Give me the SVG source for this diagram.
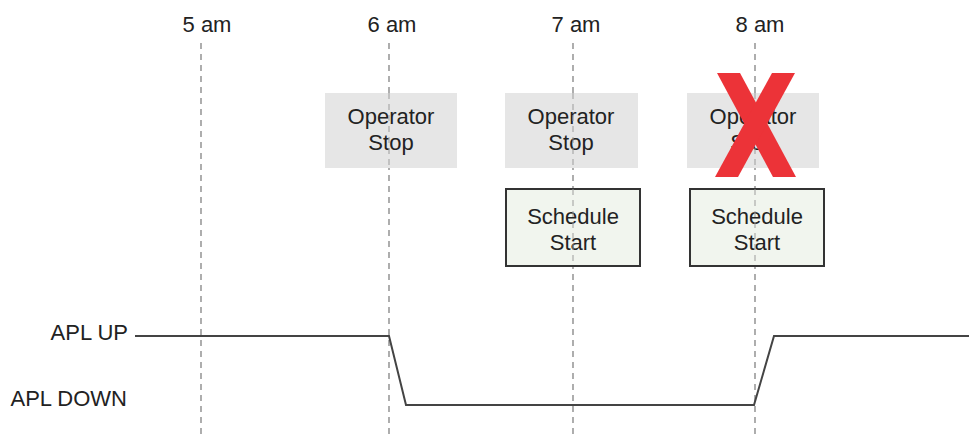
<svg xmlns="http://www.w3.org/2000/svg" width="969" height="436" viewBox="0 0 969 436">
<style>
text{font-family:"Liberation Sans",Arial,sans-serif;font-size:22px;fill:#222}
.c{text-anchor:middle}
.e{text-anchor:end}
.grid{stroke:#9a9a9a;stroke-width:1.6;stroke-dasharray:6 5;fill:none}
.stop{fill:#e6e6e6}
.sched{fill:#f1f5ee;stroke:#333;stroke-width:2}
.sig{stroke:#444;stroke-width:2;fill:none}
.x{fill:#ec3338}
</style>
<g id="axis">
<text class="c" x="207" y="32">5 am</text>
<text class="c" x="392" y="32">6 am</text>
<text class="c" x="576" y="32">7 am</text>
<text class="c" x="760" y="32">8 am</text>
<line class="grid" x1="201" y1="43" x2="201" y2="436"/>
<line class="grid" x1="389" y1="43" x2="389" y2="436"/>
<line class="grid" x1="573" y1="43" x2="573" y2="436"/>
<line class="grid" x1="755" y1="43" x2="755" y2="436"/>
</g>
<g id="stop1">
<rect class="stop" x="325" y="93" width="132" height="75"/>
<text class="c" x="391" y="124">Operator</text>
<text class="c" x="391" y="150">Stop</text>
</g>
<g id="stop2">
<rect class="stop" x="505" y="93" width="133" height="75"/>
<text class="c" x="571" y="124">Operator</text>
<text class="c" x="571" y="150">Stop</text>
</g>
<g id="stop3">
<rect class="stop" x="687" y="93" width="132" height="75"/>
<text class="c" x="753" y="124">Operator</text>
<text class="c" x="753" y="150">Stop</text>
</g>
<line class="grid" x1="389" y1="93" x2="389" y2="168" stroke-opacity="0.6"/>
<line class="grid" x1="573" y1="93" x2="573" y2="168" stroke-opacity="0.6"/>
<line class="grid" x1="755" y1="93" x2="755" y2="168" stroke-opacity="0.6"/>
<g id="sched1">
<rect class="sched" x="506" y="189" width="134" height="77"/>
<text class="c" x="573" y="224">Schedule</text>
<text class="c" x="573" y="250">Start</text>
</g>
<g id="sched2">
<rect class="sched" x="690" y="189" width="134" height="77"/>
<text class="c" x="757" y="224">Schedule</text>
<text class="c" x="757" y="250">Start</text>
</g>
<line class="grid" x1="573" y1="189" x2="573" y2="266" stroke-opacity="0.6"/>
<line class="grid" x1="755" y1="189" x2="755" y2="266" stroke-opacity="0.6"/>
<g id="cross">
<polygon class="x" points="717,73 740,73 796,177 773,177"/>
<polygon class="x" points="772,73 795,73 738,177 715,177"/>
</g>
<g id="labels">
<text class="e" x="128" y="340">APL UP</text>
<text class="e" x="127" y="406">APL DOWN</text>
</g>
<g id="connectors">
<polyline class="sig" points="135,336 389,336 406,405 754,405 774,336 969,336"/>
</g>
</svg>
